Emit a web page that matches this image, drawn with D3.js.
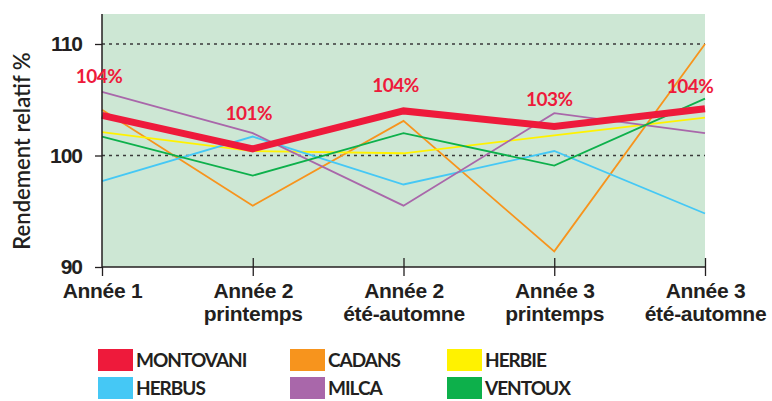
<!DOCTYPE html>
<html>
<head>
<meta charset="utf-8">
<script src="https://cdn.jsdelivr.net/npm/d3@7"></script>
<style>
  body { margin: 0; background: #fff; }
  svg { display: block; font-family: Lato, "Open Sans", sans-serif; }
</style>
</head>
<body>
<svg width="772" height="401"></svg>
<script>
// periods on the x axis (two lines each)
const periods = [
  ["Année 1"],
  ["Année 2", "printemps"],
  ["Année 2", "été-automne"],
  ["Année 3", "printemps"],
  ["Année 3", "été-automne"]
];

const montovani = [103.6, 100.6, 104.0, 102.6, 104.2];
const cadans    = [104.1, 95.5, 103.1, 91.4, 110.0];
const herbie    = [102.1, 100.4, 100.2, 101.8, 103.4];
const herbus    = [97.7, 101.7, 97.4, 100.4, 94.8];
const milca     = [105.7, 102.0, 95.5, 103.8, 102.0];
const ventoux   = [101.7, 98.2, 102.0, 99.1, 105.1];

const montovaniLabels = ["104%", "101%", "104%", "103%", "104%"];
const yTicks = [90, 100, 110];

const series = [
  { name: "MONTOVANI", values: montovani, color: "#ee1a3b" },
  { name: "CADANS", values: cadans, color: "#f7941d" },
  { name: "HERBIE", values: herbie, color: "#fff200" },
  { name: "HERBUS", values: herbus, color: "#45c8f5" },
  { name: "MILCA", values: milca, color: "#a967aa" },
  { name: "VENTOUX", values: ventoux, color: "#0db04b" }
];

const svg = d3.select("svg");
const mLeft = 102, mRight = 705, mTop = 14, mBottom = 267;
const ink = "#231f20";

const x = d3.scalePoint().domain(d3.range(periods.length)).range([mLeft, mRight]);
const y = d3.scaleLinear().domain([90, 110]).range([mBottom, 44]);

// plot background
svg.append("rect")
  .attr("x", mLeft).attr("y", mTop)
  .attr("width", mRight - mLeft).attr("height", mBottom - mTop)
  .attr("fill", "#cde7d4");

// dashed grid lines
svg.append("g").selectAll("line")
  .data(yTicks.filter(d => d > 90))
  .join("line")
  .attr("x1", mLeft).attr("x2", mRight)
  .attr("y1", d => y(d)).attr("y2", d => y(d))
  .attr("stroke", "#3a3a3a")
  .attr("stroke-width", 1.3)
  .attr("stroke-dasharray", "3,4");

// series lines, thin ones first then the red one on top
const line = d3.line().x((d, i) => x(i)).y(d => y(d));
const order = series.slice(1).concat([series[0]]);
svg.append("g").selectAll("path")
  .data(order)
  .join("path")
  .attr("d", d => line(d.values))
  .attr("fill", "none")
  .attr("stroke", d => d.color)
  .attr("stroke-width", d => d.name === "MONTOVANI" ? 7 : 1.8)
  .attr("stroke-linejoin", "miter");

// y axis
const yAxis = svg.append("g")
  .attr("transform", `translate(${mLeft},0)`)
  .call(d3.axisLeft(y).tickValues(yTicks).tickSize(7).tickPadding(13).tickFormat(d3.format("d")));
yAxis.select(".domain").remove();
yAxis.append("line")
  .attr("x1", 0).attr("x2", 0).attr("y1", mTop).attr("y2", mBottom)
  .attr("stroke", ink).attr("stroke-width", 1.5);
yAxis.selectAll(".tick line").attr("stroke", ink).attr("stroke-width", 1.3);
yAxis.selectAll(".tick text")
  .attr("fill", ink)
  .attr("font-size", 21)
  .attr("font-weight", 700)
  .attr("letter-spacing", -1);

// x axis
const xAxis = svg.append("g")
  .attr("transform", `translate(0,${mBottom})`)
  .call(d3.axisBottom(x).tickSize(9).tickFormat(""));
xAxis.select(".domain").remove();
xAxis.append("line")
  .attr("x1", mLeft).attr("x2", mRight)
  .attr("stroke", ink).attr("stroke-width", 1.5);
xAxis.selectAll(".tick line")
  .attr("y1", (d, i) => i === 0 ? 0 : -9)
  .attr("stroke", ink).attr("stroke-width", 1.3);
xAxis.selectAll(".tick").each(function (d) {
  const t = d3.select(this).append("text")
    .attr("fill", ink)
    .attr("font-size", 21)
    .attr("font-weight", 700)
    .attr("letter-spacing", -0.3)
    .attr("text-anchor", "middle");
  periods[d].forEach((s, k) => {
    t.append("tspan").attr("x", 0).attr("y", 31 + k * 23).text(s);
  });
});

// y title
svg.append("text")
  .attr("transform", `translate(30,151) rotate(-90)`)
  .attr("text-anchor", "middle")
  .attr("fill", ink)
  .attr("font-size", 22)
  .attr("font-weight", 600)
  .text("Rendement relatif %");

// montovani value labels
const labelDx = [-3, -4, -8, -5, -15];
const labelDy = [-32, -29, -19, -21, -16];
svg.append("g").selectAll("text")
  .data(montovani)
  .join("text")
  .attr("x", (d, i) => x(i) + labelDx[i])
  .attr("y", (d, i) => y(d) + labelDy[i])
  .attr("text-anchor", "middle")
  .attr("fill", "#ee1a3b")
  .attr("font-size", 19)
  .attr("font-weight", 700)
  .attr("letter-spacing", -0.5)
  .text((d, i) => montovaniLabels[i]);

// legend
const legCols = [98, 290, 447];
const legRows = [349, 377];
const leg = svg.append("g").selectAll("g")
  .data(series)
  .join("g")
  .attr("transform", (d, i) => `translate(${legCols[i % 3]},${legRows[Math.floor(i / 3)]})`);
leg.append("rect")
  .attr("width", 35).attr("height", 22)
  .attr("fill", d => d.color);
leg.append("text")
  .attr("x", 38).attr("y", 18)
  .attr("fill", ink)
  .attr("font-size", 19)
  .attr("font-weight", 700)
  .attr("letter-spacing", -1)
  .text(d => d.name);
</script>
</body>
</html>
